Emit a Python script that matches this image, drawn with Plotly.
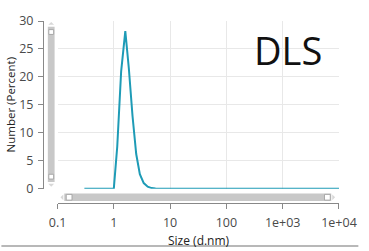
import plotly.graph_objects as go

# Data
sizes = [0.3, 0.4, 0.5, 0.6, 0.7, 0.8, 0.9, 1.0, 1.15, 1.35, 1.6, 1.85, 2.15, 2.5, 2.9,
         3.4, 4.0, 4.7, 5.5, 7, 10, 30, 100, 300, 1000, 3000, 10000]
number = [0, 0, 0, 0, 0, 0, 0, 0, 7.5, 21.0, 28.2, 21.5, 13.0, 6.2, 2.6,
          1.0, 0.35, 0.1, 0.02, 0, 0, 0, 0, 0, 0, 0, 0]
x_tickvals = [0.1, 1, 10, 100, 1000, 10000]
x_ticktext = ["0.1", "1", "10", "100", "1e+03", "1e+04"]
y_tickvals = [0, 5, 10, 15, 20, 25, 30]

W, H = 369, 251
ML, MR, MT, MB = 43, 20, 13, 48
PW, PH = W - ML - MR, H - MT - MB


def px(x):
    return (x - ML) / PW


def py(y):
    return (H - MB - y) / PH


fig = go.Figure()
fig.add_trace(go.Scatter(x=sizes, y=number, mode="lines",
                         line=dict(color="#1e9bb6", width=2), hoverinfo="skip"))

font_tick = dict(family="Open Sans, sans-serif", size=12.5, color="#4a4a4a")
fig.update_layout(
    width=W, height=H,
    margin=dict(l=ML, r=MR, t=MT, b=MB, pad=0),
    paper_bgcolor="white", plot_bgcolor="white",
    showlegend=False,
    xaxis=dict(type="log", range=[-1, 4], domain=[15 / PW, 1], anchor="free", position=0,
               tickvals=x_tickvals, ticktext=x_ticktext, ticks="outside", ticklen=5,
               tickcolor="#888888", showline=True, linecolor="#888888", linewidth=1,
               showgrid=True, gridcolor="#e8e8e8", gridwidth=1, zeroline=False,
               tickfont=font_tick, ticklabelstandoff=3),
    yaxis=dict(range=[0, 30], domain=[15 / PH, 1], anchor="free", position=0,
               tickvals=y_tickvals, ticks="outside", ticklen=5,
               tickcolor="#888888", showline=True, linecolor="#888888", linewidth=1,
               showgrid=True, gridcolor="#e8e8e8", gridwidth=1, zeroline=False,
               tickfont=font_tick, ticklabelstandoff=2),
)

shapes = []
grey = "#c8c8c8"
# vertical scrollbar
shapes.append(dict(type="rect", xref="paper", yref="paper", x0=px(48), x1=px(55), y0=py(181), y1=py(19),
                   fillcolor=grey, line=dict(width=0), layer="above"))
for yy in (22, 173):
    shapes.append(dict(type="rect", xref="paper", yref="paper", x0=px(49), x1=px(54), y0=py(yy + 5), y1=py(yy),
                       fillcolor="white", line=dict(color="#a8a8a8", width=1), layer="above"))
shapes.append(dict(type="path", xref="paper", yref="paper",
                   path=f"M {px(48.5)} {py(17)} L {px(54.5)} {py(17)} L {px(51.5)} {py(14)} Z",
                   fillcolor="#d8d8d8", line=dict(width=0)))
shapes.append(dict(type="path", xref="paper", yref="paper",
                   path=f"M {px(48.5)} {py(183)} L {px(54.5)} {py(183)} L {px(51.5)} {py(186)} Z",
                   fillcolor="#d8d8d8", line=dict(width=0)))
# horizontal scrollbar
shapes.append(dict(type="rect", xref="paper", yref="paper", x0=px(65), x1=px(341), y0=py(201), y1=py(193),
                   fillcolor=grey, line=dict(width=0), layer="above"))
for xx in (67, 334):
    shapes.append(dict(type="rect", xref="paper", yref="paper", x0=px(xx), x1=px(xx + 6), y0=py(200), y1=py(194),
                       fillcolor="white", line=dict(color="#a8a8a8", width=1), layer="above"))
shapes.append(dict(type="path", xref="paper", yref="paper",
                   path=f"M {px(64)} {py(194)} L {px(64)} {py(200)} L {px(61)} {py(197)} Z",
                   fillcolor="#d8d8d8", line=dict(width=0)))
shapes.append(dict(type="path", xref="paper", yref="paper",
                   path=f"M {px(342)} {py(194)} L {px(342)} {py(200)} L {px(345)} {py(197)} Z",
                   fillcolor="#d8d8d8", line=dict(width=0)))
# bottom border line
shapes.append(dict(type="line", xref="paper", yref="paper", x0=px(0), x1=px(W), y0=py(248), y1=py(248),
                   line=dict(color="#a0a0a0", width=1.5)))
fig.update_layout(shapes=shapes)

fig.add_annotation(text="Number (Percent)", xref="paper", yref="paper", x=px(9), y=py(100),
                   textangle=-90, showarrow=False, xanchor="center", yanchor="middle",
                   font=dict(family="Open Sans, sans-serif", size=11.5, color="#222222"))
fig.add_annotation(text="Size (d.nm)", xref="paper", yref="paper", x=px(204), y=py(242),
                   showarrow=False, xanchor="center", yanchor="middle",
                   font=dict(family="Open Sans, sans-serif", size=12, color="#222222"))
fig.add_annotation(text="DLS", xref="paper", yref="paper", x=px(296), y=py(43),
                   showarrow=False, xanchor="center", yanchor="middle",
                   font=dict(family="Open Sans, sans-serif", size=38, color="#111111"))

fig.write_html("out.html")
